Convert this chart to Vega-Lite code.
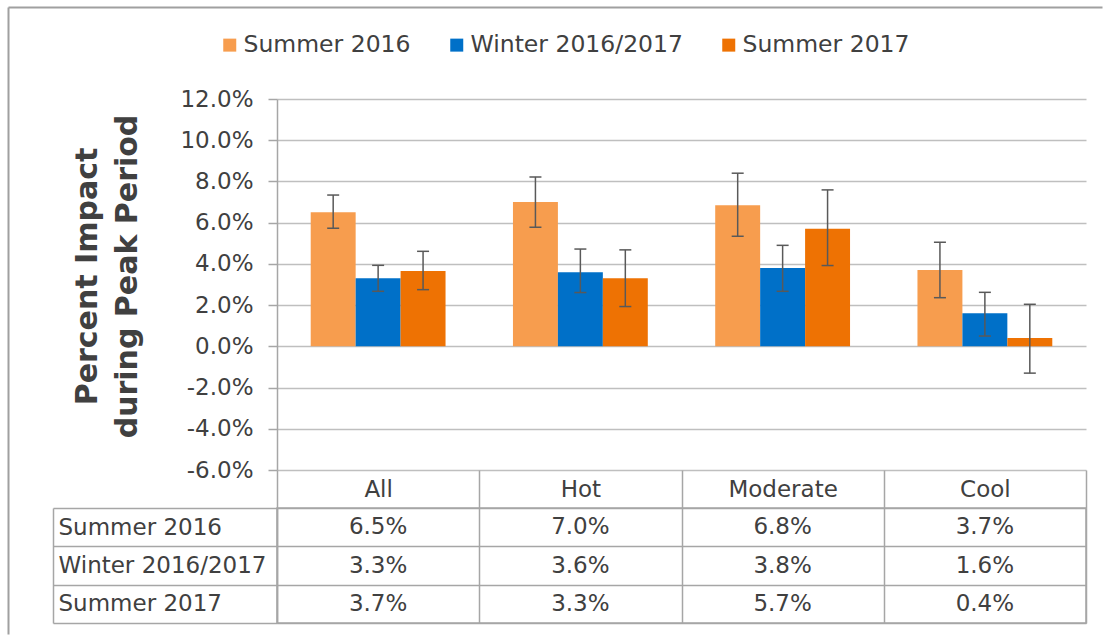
{
  "$schema": "https://vega.github.io/schema/vega-lite/v6.json",
  "background": "white",
  "padding": {"left": 6, "top": 5, "right": 0, "bottom": 0},
  "spacing": 38,
  "bounds": "flush",
  "config": {
    "font": "DejaVu Sans",
    "view": {"stroke": null},
    "axis": {"labelFont": "DejaVu Sans", "titleFont": "DejaVu Sans", "labelLimit": 0}
  },
  "datasets": {
    "bars": [
      {"category": "All", "series": "Summer 2016", "value": 0.065, "low": 0.0573, "high": 0.0734},
      {"category": "All", "series": "Winter 2016/2017", "value": 0.033, "low": 0.0267, "high": 0.0393},
      {"category": "All", "series": "Summer 2017", "value": 0.0366, "low": 0.0275, "high": 0.0461},
      {"category": "Hot", "series": "Summer 2016", "value": 0.070, "low": 0.0578, "high": 0.0822},
      {"category": "Hot", "series": "Winter 2016/2017", "value": 0.036, "low": 0.0261, "high": 0.0472},
      {"category": "Hot", "series": "Summer 2017", "value": 0.033, "low": 0.0193, "high": 0.0468},
      {"category": "Moderate", "series": "Summer 2016", "value": 0.0684, "low": 0.0534, "high": 0.0840},
      {"category": "Moderate", "series": "Winter 2016/2017", "value": 0.038, "low": 0.0267, "high": 0.0490},
      {"category": "Moderate", "series": "Summer 2017", "value": 0.057, "low": 0.0392, "high": 0.0759},
      {"category": "Cool", "series": "Summer 2016", "value": 0.037, "low": 0.0236, "high": 0.0505},
      {"category": "Cool", "series": "Winter 2016/2017", "value": 0.016, "low": 0.0050, "high": 0.0262},
      {"category": "Cool", "series": "Summer 2017", "value": 0.004, "low": -0.0130, "high": 0.0204}
    ]
  },
  "resolve": {"legend": {"color": "independent"}},
  "vconcat": [
    {
      "width": 809,
      "height": 371,
      "data": {"name": "bars"},
      "encoding": {
        "x": {
          "field": "category", "type": "nominal",
          "sort": ["All", "Hot", "Moderate", "Cool"],
          "title": null,
          "scale": {"paddingInner": 0, "paddingOuter": 0},
          "axis": {
            "orient": "bottom", "tickBand": "extent", "domain": false, "grid": false,
            "ticks": true, "tickSize": 38, "tickColor": "#A6A6A6", "tickWidth": 1.5,
            "labelPadding": -19, "labelBaseline": "middle", "labelAlign": "center",
            "labelAngle": 0, "labelFontSize": 23, "labelColor": "#404040"
          }
        },
        "xOffset": {
          "field": "series", "type": "nominal",
          "sort": ["Summer 2016", "Winter 2016/2017", "Summer 2017"],
          "scale": {"paddingInner": 0, "paddingOuter": 0.75}
        }
      },
      "layer": [
        {
          "mark": {"type": "bar"},
          "encoding": {
            "y": {
              "field": "value", "type": "quantitative",
              "scale": {"domain": [-0.06, 0.12], "nice": false, "zero": false},
              "axis": {
                "title": ["Percent Impact", "during Peak Period"],
                "values": [-0.06, -0.04, -0.02, 0, 0.02, 0.04, 0.06, 0.08, 0.1, 0.12],
                "format": ".1%",
                "labelExpr": "replace(datum.label, '\u2212', '-')",
                "labelFontSize": 23, "labelColor": "#404040", "labelPadding": 15,
                "tickSize": 9, "tickColor": "#A6A6A6", "tickWidth": 1.5,
                "domainColor": "#A6A6A6", "domainWidth": 1.5,
                "grid": true, "gridColor": "#BFBFBF", "gridWidth": 1.5,
                "titleFontSize": 30, "titleFontWeight": "bold", "titleColor": "#404040",
                "titleLineHeight": 40, "titlePadding": 37, "titleY": 177
              }
            },
            "color": {
              "field": "series", "type": "nominal",
              "sort": ["Summer 2016", "Winter 2016/2017", "Summer 2017"],
              "scale": {"domain": ["Summer 2016", "Winter 2016/2017", "Summer 2017"], "range": ["#F79D4E", "#0070C8", "#EE7203"]},
              "legend": {
                "title": null, "orient": "none", "direction": "horizontal",
                "legendX": -59, "legendY": -66, "padding": 0,
                "symbolType": "square", "symbolSize": 169, "symbolStrokeWidth": 0, "symbolOpacity": 1,
                "labelFontSize": 23.5, "labelColor": "#404040", "labelOffset": 2, "labelLimit": 0,
                "columnPadding": 34
              }
            }
          }
        },
        {
          "mark": {"type": "rule", "color": "#595959", "strokeWidth": 1.5},
          "encoding": {
            "y": {"field": "low", "type": "quantitative"},
            "y2": {"field": "high"}
          }
        },
        {
          "mark": {"type": "tick", "color": "#595959", "thickness": 1.5, "size": 12, "opacity": 1},
          "encoding": {"y": {"field": "high", "type": "quantitative"}}
        },
        {
          "mark": {"type": "tick", "color": "#595959", "thickness": 1.5, "size": 12, "opacity": 1},
          "encoding": {"y": {"field": "low", "type": "quantitative"}}
        }
      ]
    },
    {
      "width": 809,
      "height": 115,
      "view": {"stroke": "#A6A6A6", "strokeWidth": 1.5},
      "data": {"name": "bars"},
      "layer": [
        {
          "mark": {"type": "text", "fontSize": 23, "color": "#404040"},
          "encoding": {
            "x": {
              "field": "category", "type": "nominal",
              "sort": ["All", "Hot", "Moderate", "Cool"],
              "title": null,
              "scale": {"paddingInner": 0, "paddingOuter": 0},
              "axis": {
                "orient": "top", "labels": false, "domain": false, "tickBand": "extent",
                "ticks": false,
                "grid": true, "gridColor": "#A6A6A6", "gridWidth": 1.5
              }
            },
            "y": {
              "field": "series", "type": "nominal",
              "sort": ["Summer 2016", "Winter 2016/2017", "Summer 2017"],
              "title": null,
              "scale": {"paddingInner": 0, "paddingOuter": 0},
              "axis": {
                "orient": "left", "tickBand": "extent", "domain": true, "domainColor": "#A6A6A6", "domainWidth": 1.5,
                "ticks": true, "tickSize": 224, "tickColor": "#A6A6A6", "tickWidth": 1.5,
                "grid": true, "gridColor": "#A6A6A6", "gridWidth": 1.5,
                "labelAlign": "left", "labelBaseline": "middle", "labelPadding": -5,
                "labelFontSize": 23, "labelColor": "#404040", "labelLimit": 0
              }
            },
            "text": {"field": "value", "type": "quantitative", "format": ".1%"}
          }
        },
        {
          "mark": {"type": "text", "fontSize": 23, "opacity": 0},
          "encoding": {
            "x": {
              "field": "category", "type": "nominal",
              "sort": ["All", "Hot", "Moderate", "Cool"],
              "axis": null
            },
            "y": {
              "field": "series", "type": "nominal",
              "sort": ["Summer 2016", "Winter 2016/2017", "Summer 2017"],
              "title": null,
              "axis": {
                "orient": "left", "offset": 224, "labels": false,
                "domain": true, "domainColor": "#A6A6A6", "domainWidth": 1.5,
                "ticks": false, "grid": false
              }
            },
            "text": {"field": "value", "type": "quantitative", "format": ".1%"}
          }
        },
        {
          "mark": {"type": "text", "fontSize": 23, "opacity": 0},
          "encoding": {
            "x": {
              "field": "category", "type": "nominal",
              "sort": ["All", "Hot", "Moderate", "Cool"],
              "title": null,
              "axis": {
                "orient": "top", "offset": 501, "values": ["All"], "labels": false,
                "domain": false, "grid": false,
                "ticks": true, "tickSize": -627, "tickOffset": -370,
                "tickColor": "#A0A0A0", "tickWidth": 2
              }
            },
            "y": {
              "field": "series", "type": "nominal",
              "sort": ["Summer 2016", "Winter 2016/2017", "Summer 2017"],
              "title": null,
              "axis": {
                "orient": "left", "offset": 269, "values": ["Summer 2016"], "labels": false,
                "domain": false, "grid": false,
                "ticks": true, "tickSize": -1094, "tickOffset": -520.2,
                "tickColor": "#A0A0A0", "tickWidth": 2
              }
            },
            "text": {"field": "value", "type": "quantitative", "format": ".1%"}
          }
        }
      ],
      "resolve": {"axis": {"x": "independent", "y": "independent"}}
    }
  ]
}
